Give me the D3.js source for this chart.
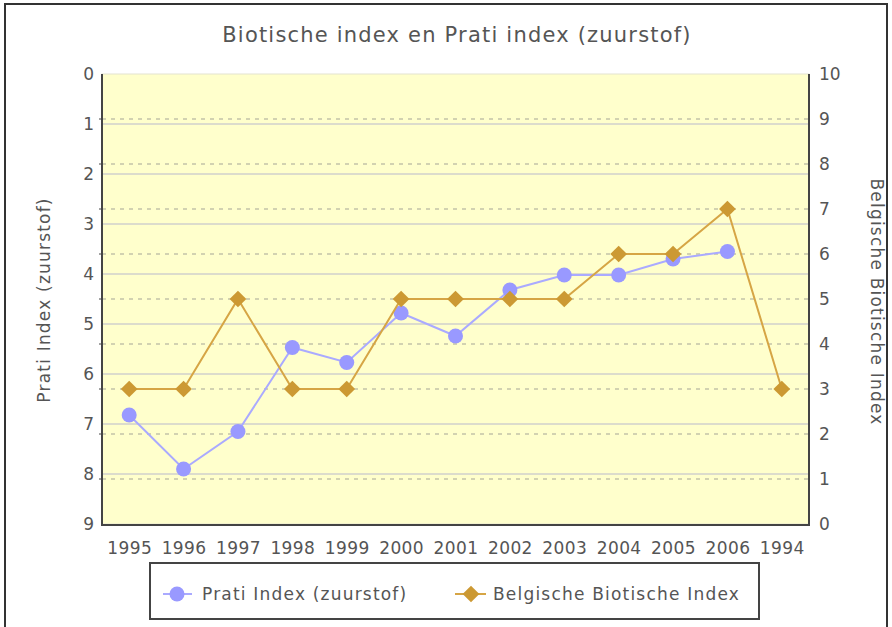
<!DOCTYPE html>
<html>
<head>
<meta charset="utf-8">
<script src="https://cdn.jsdelivr.net/npm/d3@7"></script>
<style>
  html, body { margin: 0; padding: 0; background: #ffffff; }
  svg { display: block; font-family: "DejaVu Sans", sans-serif; }
</style>
</head>
<body>
<svg id="chart" width="892" height="627"></svg>
<script>
// Categories along the x axis (the last one is out of chronological order in the source data)
const years = ["1995", "1996", "1997", "1998", "1999", "2000", "2001", "2002", "2003", "2004", "2005", "2006", "1994"];
// Prati index for dissolved oxygen (left axis, inverted)
const prati = [6.82, 7.9, 7.15, 5.47, 5.77, 4.78, 5.24, 4.32, 4.02, 4.02, 3.7, 3.55, null];
// Belgian Biotic Index (right axis)
const bbi = [3, 3, 5, 3, 3, 5, 5, 5, 5, 6, 6, 7, 3];
// Axis ticks
const leftTicks = [0, 1, 2, 3, 4, 5, 6, 7, 8, 9];
const rightTicks = [0, 1, 2, 3, 4, 5, 6, 7, 8, 9, 10];

const title = "Biotische index en Prati index (zuurstof)";
const leftLabel = "Prati Index (zuurstof)";
const rightLabel = "Belgische Biotische Index";
const seriesNames = ["Prati Index (zuurstof)", "Belgische Biotische Index"];

const colors = {
  prati: "#9999ff", pratiLine: "#aaaaff",
  bbi: "#cc9933", bbiLine: "#d6a545",
  text: "#555555", axis: "#444444",
  plotBg: "#ffffcc", gridSolid: "#dcdccc", gridDash: "#c4c4a8"
};

const svg = d3.select("#chart");
const plot = { left: 102, right: 809, top: 74, bottom: 524 };

// Outer frame
svg.append("rect")
  .attr("x", 5).attr("y", 4).attr("width", 882).attr("height", 660)
  .attr("fill", "#ffffff").attr("stroke", "#333333").attr("stroke-width", 2);

// Title
svg.append("text")
  .attr("x", 457).attr("y", 35)
  .attr("text-anchor", "middle").attr("dominant-baseline", "central")
  .attr("font-size", 21).attr("letter-spacing", 1.2)
  .attr("fill", colors.text)
  .text(title);

// Scales
const x = d3.scalePoint().domain(years).range([plot.left, plot.right]).padding(0.5);
const yL = d3.scaleLinear().domain([0, 9]).range([plot.top, plot.bottom]);
const yR = d3.scaleLinear().domain([0, 10]).range([plot.bottom, plot.top]);

// Plot background
svg.append("rect")
  .attr("x", plot.left).attr("y", plot.top)
  .attr("width", plot.right - plot.left).attr("height", plot.bottom - plot.top)
  .attr("fill", colors.plotBg).attr("stroke", "#e4e4d0").attr("stroke-width", 1);

// Solid gridlines on the left-axis ticks
svg.append("g").selectAll("line")
  .data(leftTicks.filter(d => d > 0 && d < 9))
  .join("line")
  .attr("x1", plot.left).attr("x2", plot.right)
  .attr("y1", d => yL(d)).attr("y2", d => yL(d))
  .attr("stroke", colors.gridSolid).attr("stroke-width", 2);

// Dashed gridlines on the right-axis ticks
svg.append("g").selectAll("line")
  .data(rightTicks.filter(d => d > 0 && d < 10))
  .join("line")
  .attr("x1", plot.left).attr("x2", plot.right)
  .attr("y1", d => yR(d)).attr("y2", d => yR(d))
  .attr("stroke", colors.gridDash).attr("stroke-width", 1.3)
  .attr("stroke-dasharray", "4,5");

// Axes
const fontSize = 17;
function styleAxis(g) {
  g.select(".domain").remove();
  g.selectAll("text")
    .attr("font-family", "DejaVu Sans, sans-serif")
    .attr("font-size", fontSize)
    .attr("fill", colors.text);
}

const gLeft = svg.append("g")
  .attr("transform", `translate(${plot.left},0)`)
  .call(d3.axisLeft(yL).tickValues(leftTicks).tickFormat(d3.format("d")).tickSize(0).tickPadding(8))
  .call(styleAxis);

const gRight = svg.append("g")
  .attr("transform", `translate(${plot.right},0)`)
  .call(d3.axisRight(yR).tickValues(rightTicks).tickFormat(d3.format("d")).tickSize(0).tickPadding(10))
  .call(styleAxis);

const gBottom = svg.append("g")
  .attr("transform", `translate(0,${plot.bottom})`)
  .call(d3.axisBottom(x).tickSize(0).tickPadding(18))
  .call(styleAxis);
gBottom.selectAll("text").attr("letter-spacing", 0.4);

// Small tick marks on the left axis line
svg.append("g").selectAll("line")
  .data(rightTicks.filter(d => d > 0 && d < 10))
  .join("line")
  .attr("x1", plot.left - 3).attr("x2", plot.left)
  .attr("y1", d => yR(d)).attr("y2", d => yR(d))
  .attr("stroke", colors.axis).attr("stroke-width", 1);

// Axis lines
const axisLines = svg.append("g").attr("stroke", colors.axis).attr("stroke-width", 2);
axisLines.append("line")
  .attr("x1", plot.left).attr("x2", plot.left).attr("y1", plot.top).attr("y2", plot.bottom + 1);
axisLines.append("line")
  .attr("x1", plot.right).attr("x2", plot.right).attr("y1", plot.top).attr("y2", plot.bottom + 1);
axisLines.append("line")
  .attr("x1", plot.left - 1).attr("x2", plot.right + 1).attr("y1", plot.bottom + 1).attr("y2", plot.bottom + 1);

// Axis titles
svg.append("text")
  .attr("transform", "translate(44,300) rotate(-90)")
  .attr("text-anchor", "middle").attr("dominant-baseline", "central")
  .attr("font-size", fontSize).attr("letter-spacing", 1.2)
  .attr("fill", colors.text)
  .text(leftLabel);

svg.append("text")
  .attr("transform", "translate(877,302) rotate(90)")
  .attr("text-anchor", "middle").attr("dominant-baseline", "central")
  .attr("font-size", fontSize).attr("letter-spacing", 1.2)
  .attr("fill", colors.text)
  .text(rightLabel);

// Prati series (left axis)
const pratiPts = years.map((y, i) => ({ y, v: prati[i] })).filter(d => d.v != null);
svg.append("path")
  .datum(pratiPts)
  .attr("fill", "none").attr("stroke", colors.pratiLine).attr("stroke-width", 2)
  .attr("d", d3.line().x(d => x(d.y)).y(d => yL(d.v)));
svg.append("g").selectAll("circle")
  .data(pratiPts)
  .join("circle")
  .attr("cx", d => x(d.y)).attr("cy", d => yL(d.v)).attr("r", 7.5)
  .attr("fill", colors.prati);

// Belgian Biotic Index series (right axis)
const bbiPts = years.map((y, i) => ({ y, v: bbi[i] }));
svg.append("path")
  .datum(bbiPts)
  .attr("fill", "none").attr("stroke", colors.bbiLine).attr("stroke-width", 2)
  .attr("d", d3.line().x(d => x(d.y)).y(d => yR(d.v)));
const diamond = d3.symbol().type(d3.symbolDiamond2).size(140);
svg.append("g").selectAll("path")
  .data(bbiPts)
  .join("path")
  .attr("transform", d => `translate(${x(d.y)},${yR(d.v)}) rotate(45)`)
  .attr("d", d3.symbol().type(d3.symbolSquare).size(140))
  .attr("fill", colors.bbi);

// Legend
const legend = svg.append("g");
legend.append("rect")
  .attr("x", 150).attr("y", 563).attr("width", 609).attr("height", 56)
  .attr("fill", "#ffffff").attr("stroke", "#444444").attr("stroke-width", 2);

const ly = 594;
// Prati entry
legend.append("line").attr("x1", 163).attr("x2", 192).attr("y1", ly).attr("y2", ly)
  .attr("stroke", colors.pratiLine).attr("stroke-width", 2);
legend.append("circle").attr("cx", 177).attr("cy", ly).attr("r", 7.5).attr("fill", colors.prati);
legend.append("text").attr("x", 202).attr("y", ly)
  .attr("dominant-baseline", "central").attr("font-size", fontSize).attr("letter-spacing", 1.2)
  .attr("fill", colors.text).text(seriesNames[0]);
// BBI entry
legend.append("line").attr("x1", 455).attr("x2", 486).attr("y1", ly).attr("y2", ly)
  .attr("stroke", colors.bbiLine).attr("stroke-width", 2);
legend.append("path")
  .attr("transform", `translate(471,${ly}) rotate(45)`)
  .attr("d", d3.symbol().type(d3.symbolSquare).size(140))
  .attr("fill", colors.bbi);
legend.append("text").attr("x", 493).attr("y", ly)
  .attr("dominant-baseline", "central").attr("font-size", fontSize).attr("letter-spacing", 1.2)
  .attr("fill", colors.text).text(seriesNames[1]);
</script>
</body>
</html>
